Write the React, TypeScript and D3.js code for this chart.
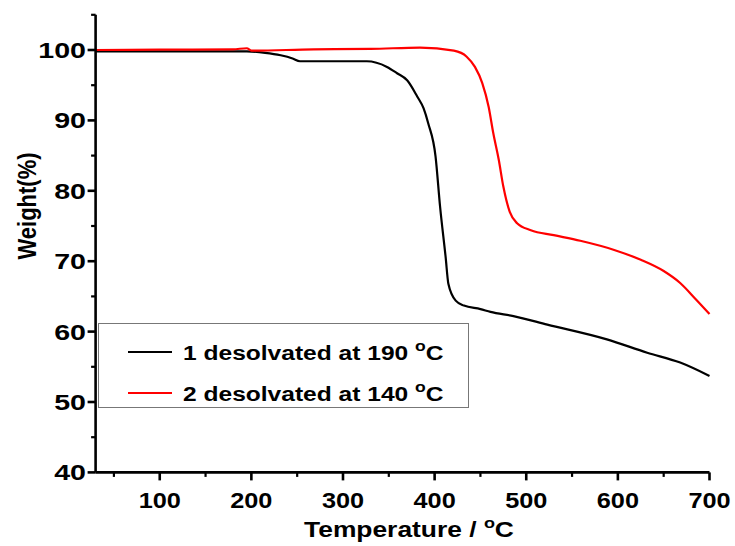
import React from 'react';
import * as d3 from 'd3';

// sample 1: desolvated at 190 °C (temperature °C, weight %)
const temp1 = [30, 100, 195, 215, 232, 245, 253, 326, 348, 359, 370, 381, 388, 393, 401, 406, 412, 415, 423, 432, 450, 461, 486, 523, 588, 632, 668, 700];
const weight1 = [99.8, 99.8, 99.8, 99.6, 99.25, 98.8, 98.4, 98.4, 97.6, 96.7, 95.7, 93.4, 91.7, 89.6, 84.9, 77.7, 70.6, 66.8, 64.4, 63.7, 63.2, 62.8, 62.2, 61.0, 58.9, 57.0, 55.6, 53.7];

// sample 2: desolvated at 140 °C
const temp2 = [30, 100, 180, 195, 200, 268, 330, 384, 421, 435, 444, 452, 459, 464, 470, 475, 482, 490, 505, 530, 559, 596, 625, 650, 668, 685, 700];
const weight2 = [100.0, 100.05, 100.1, 100.25, 99.9, 100.1, 100.15, 100.35, 99.9, 99.05, 97.6, 95.3, 91.9, 88.2, 84.4, 80.6, 77.0, 75.4, 74.4, 73.7, 72.9, 71.6, 70.2, 68.6, 66.9, 64.6, 62.5];

const seriesNames = ['1 desolvated at 190 ', '2 desolvated at 140 '];
const seriesColors = ['#000000', '#ff0000'];

const xMajor = [100, 200, 300, 400, 500, 600, 700];
const xMinor = [50, 150, 250, 350, 450, 550, 650];
const yMajor = [40, 50, 60, 70, 80, 90, 100];
const yMinor = [45, 55, 65, 75, 85, 95, 105];

const FONT = '"Liberation Sans", Arial, sans-serif';

// the original is stretched sideways, so text is widened about its anchor
const wide = (cx: number, k: number) => `translate(${cx},0) scale(${k},1) translate(${-cx},0)`;

export default function App() {
  const x = d3.scaleLinear().domain([30, 700]).range([95.6, 709.5]);
  const y = d3.scaleLinear().domain([40, 105]).range([472.4, 14.8]);

  const line = d3.line<[number, number]>()
    .x(d => x(d[0]))
    .y(d => y(d[1]))
    .curve(d3.curveMonotoneX);

  const s1 = temp1.map((t, i) => [t, weight1[i]] as [number, number]);
  const s2 = temp2.map((t, i) => [t, weight2[i]] as [number, number]);

  const x0 = x.range()[0];
  const y0 = y.range()[0];

  return (
    <svg width={735} height={546} style={{ position: 'absolute', left: 0, top: 0 }}
      fontFamily={FONT} fontWeight="bold">
      <rect width={735} height={546} fill="#fff" />

      <path d={line(s1) || ''} fill="none" stroke={seriesColors[0]} strokeWidth={2.2} />
      <path d={line(s2) || ''} fill="none" stroke={seriesColors[1]} strokeWidth={2.2} />

      {/* axes */}
      <line x1={x0} x2={x.range()[1]} y1={y0} y2={y0} stroke="#000" strokeWidth={2.6} />
      <line x1={x0} x2={x0} y1={y.range()[1]} y2={y0} stroke="#000" strokeWidth={2.6} />

      {xMajor.map(v => (
        <g key={'xm' + v}>
          <line x1={x(v)} x2={x(v)} y1={y0} y2={y0 + 8} stroke="#000" strokeWidth={2.6} />
          <text x={x(v)} y={508} textAnchor="middle" fontSize={22} transform={wide(x(v), 1.15)}>{v}</text>
        </g>
      ))}
      {xMinor.map(v => (
        <line key={'xn' + v} x1={x(v)} x2={x(v)} y1={y0} y2={y0 + 4.5} stroke="#000" strokeWidth={2.2} />
      ))}
      {yMajor.map(v => (
        <g key={'ym' + v}>
          <line x1={x0 - 8} x2={x0} y1={y(v)} y2={y(v)} stroke="#000" strokeWidth={2.6} />
          <text x={86} y={y(v) + 8} textAnchor="end" fontSize={22} transform={wide(86, 1.3)}>{v}</text>
        </g>
      ))}
      {yMinor.map(v => (
        <line key={'yn' + v} x1={x0 - 4.5} x2={x0} y1={y(v)} y2={y(v)} stroke="#000" strokeWidth={2.2} />
      ))}

      {/* axis titles */}
      <text transform="translate(36,206) rotate(-90) scale(1,1.2)" textAnchor="middle" fontSize={22}>Weight(%)</text>
      <text x={409} y={537} textAnchor="middle" fontSize={22} transform={wide(409, 1.2)}>
        Temperature / <tspan dy={-9} fontSize={15}>o</tspan><tspan dy={9}>C</tspan>
      </text>

      {/* legend */}
      <rect x={98.5} y={323.5} width={370} height={84} fill="#fff" stroke="#777" strokeWidth={1} />
      {seriesNames.map((name, i) => (
        <g key={name}>
          <line x1={128} x2={172} y1={352 + i * 41} y2={352 + i * 41} stroke={seriesColors[i]} strokeWidth={1.8} />
          <text x={183} y={360 + i * 41} fontSize={21} transform={wide(183, 1.17)}>
            {name}<tspan dy={-9} fontSize={15}>o</tspan><tspan dy={9}>C</tspan>
          </text>
        </g>
      ))}
    </svg>
  );
}
